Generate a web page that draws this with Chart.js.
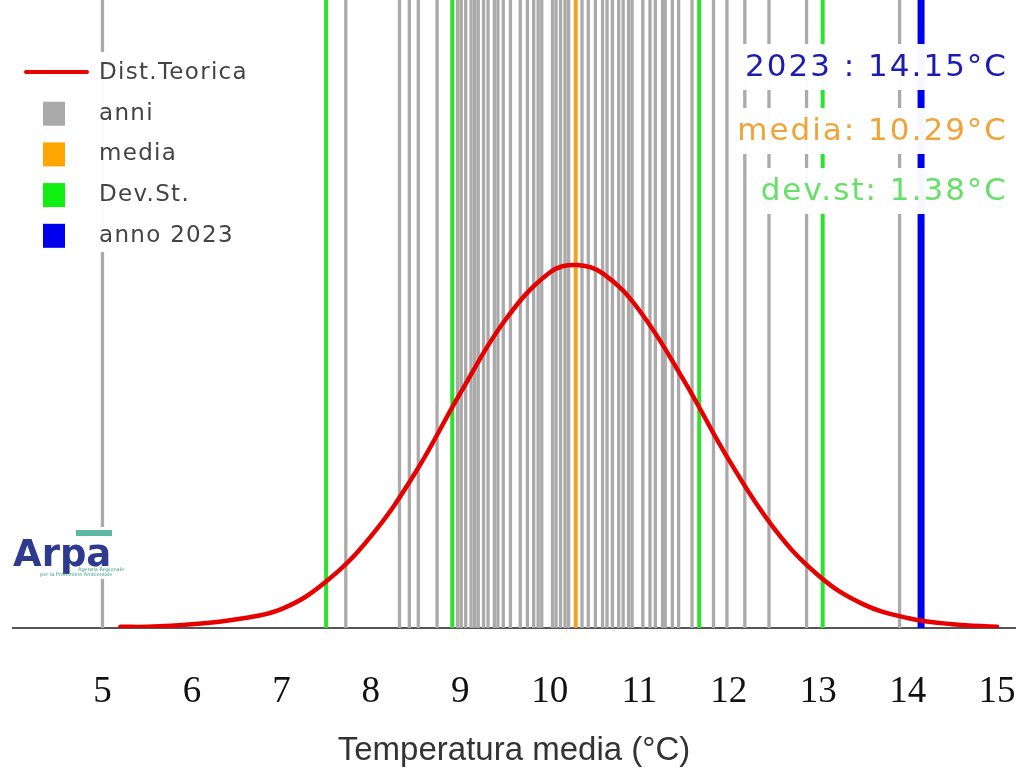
<!DOCTYPE html>
<html>
<head>
<meta charset="utf-8">
<script src="https://cdn.jsdelivr.net/npm/chart.js@4"></script>
<style>
html,body{margin:0;padding:0;background:#fff;}
#wrap{width:1020px;height:774px;position:relative;}
</style>
</head>
<body>
<div id="wrap"><canvas id="c" width="1020" height="774"></canvas></div>
<script>
// ---- data ----
const anni = [5.00, 7.72, 8.32, 8.43, 8.53, 8.74, 8.97, 9.01, 9.06, 9.12, 9.16, 9.20, 9.26, 9.31, 9.38, 9.42, 9.48, 9.56, 9.67, 9.75, 9.82, 9.87, 9.91, 10.03, 10.07, 10.12, 10.17, 10.21, 10.36, 10.43, 10.51, 10.59, 10.64, 10.70, 10.77, 10.82, 10.88, 10.92, 11.04, 11.12, 11.18, 11.26, 11.29, 11.37, 11.44, 11.59, 11.83, 11.98, 12.18, 12.45, 12.87, 13.91];
const media = 10.29;
const devSt = 1.38;
const devLines = [7.50, 8.91, 11.67, 13.05];
const anno = 2023;
const valoreAnno = 14.15;
const curveX = [5.2, 5.5, 6.0, 6.5, 7.0, 7.5, 8.0, 8.5, 9.0, 9.5, 10.0, 10.3, 10.6, 11.0, 11.5, 12.0, 12.5, 13.0, 13.5, 14.0, 14.5, 15.0];
const curveY = [0.001, 0.001, 0.003, 0.007, 0.015, 0.037, 0.073, 0.124, 0.187, 0.245, 0.283, 0.289, 0.282, 0.253, 0.197, 0.134, 0.080, 0.042, 0.019, 0.008, 0.003, 0.001];
const tickLabels = [5, 6, 7, 8, 9, 10, 11, 12, 13, 14, 15];
const legendLabels = ['Dist.Teorica', 'anni', 'media', 'Dev.St.', 'anno 2023'];
const axisTitle = 'Temperatura media (°C)';

const yTop = 0.5;
function vlines(vals){
  const out = [];
  vals.forEach(v => { out.push({x:v,y:0}); out.push({x:v,y:yTop}); out.push({x:v,y:null}); });
  return out;
}

const COL = {red:'#e60000', gray:'#aaaaaa', orange:'#f5a020', green:'#2fe02f', blue:'#0000f0'};

const overlay = {
  id:'overlay',
  afterDraw(chart){
    const ctx = chart.ctx;
    ctx.save();
    // info boxes
    const boxes = [
      {t: anno + ' : ' + valoreAnno.toFixed(2) + '°C', c:'#1c1cb4', y:68},
      {t: 'media: ' + media.toFixed(2) + '°C', c:'#f0a438', y:132},
      {t: 'dev.st: ' + devSt.toFixed(2) + '°C', c:'#66e066', y:192}
    ];
    ctx.font = '31px "DejaVu Sans"';
    ctx.letterSpacing = '2px';
    ctx.textBaseline = 'middle';
    boxes.forEach(b => {
      const w = ctx.measureText(b.t).width;
      const right = 1008;
      ctx.fillStyle = 'rgba(255,255,255,0.97)';
      ctx.fillRect(right - w - 6, b.y - 24, w + 10, 46);
      ctx.fillStyle = b.c;
      ctx.textAlign = 'right';
      ctx.fillText(b.t, right, b.y);
    });
    // legend
    ctx.fillStyle = 'rgba(255,255,255,0.96)';
    ctx.fillRect(16, 52, 240, 200);
    const sw = [COL.red, COL.gray, '#ffa500', '#11ee11', '#0000ee'];
    ctx.font = '23px "DejaVu Sans"';
    ctx.letterSpacing = '1.3px';
    ctx.textAlign = 'left';
    legendLabels.forEach((lab, i) => {
      const y = 72 + i * 40.7;
      if (i === 0) {
        ctx.strokeStyle = COL.red; ctx.lineWidth = 4; ctx.lineCap = 'round';
        ctx.beginPath(); ctx.moveTo(26, y); ctx.lineTo(87, y); ctx.stroke();
      } else {
        ctx.fillStyle = sw[i];
        ctx.fillRect(43, y - 11, 22, 24);
      }
      ctx.fillStyle = '#444';
      ctx.fillText(lab, 99, y + 1);
    });
    ctx.letterSpacing = '0px';
    // logo
    ctx.fillStyle = '#fff';
    ctx.fillRect(12, 527, 104, 52);
    ctx.fillStyle = '#5cb8a0';
    ctx.fillRect(76, 530, 36, 6);
    ctx.fillStyle = '#2d3a8e';
    ctx.font = 'bold 37px "DejaVu Sans"';
    ctx.textBaseline = 'alphabetic';
    ctx.fillText('Arpa', 13, 566);
    ctx.fillStyle = '#3aa08c';
    ctx.font = '5px "DejaVu Sans"';
    ctx.fillText('Agenzia Regionale', 78, 571);
    ctx.fillText('per la Protezione Ambientale', 40, 576);
    ctx.restore();
  }
};

new Chart(document.getElementById('c'), {
  type: 'line',
  data: {
    datasets: [
      {label:'anni', data: vlines(anni), borderColor: COL.gray, borderWidth: 3.3, pointRadius: 0, spanGaps:false, tension:0, order:5},
      {label:'Dev.St.', data: vlines(devLines), borderColor: COL.green, borderWidth: 4, pointRadius: 0, spanGaps:false, tension:0, order:4},
      {label:'media', data: vlines([media]), borderColor: COL.orange, borderWidth: 4, pointRadius: 0, spanGaps:false, tension:0, order:3},
      {label:'anno 2023', data: vlines([valoreAnno]), borderColor: COL.blue, borderWidth: 7, pointRadius: 0, spanGaps:false, tension:0, order:2},
      {label:'Dist.Teorica', data: curveX.map((x,i)=>({x:x, y:curveY[i]})), borderColor: COL.red, borderWidth: 4.5,
       pointRadius: 0, tension: 0.4, borderCapStyle:'round', order:1}
    ]
  },
  options: {
    responsive: false,
    animation: false,
    layout: {autoPadding: false, padding: {left: 13, right: 5, top: 0, bottom: 0}},
    plugins: {legend: {display:false}, tooltip: {enabled:false}},
    scales: {
      x: {
        type: 'linear', min: 4, max: 15.2,
        grid: {display: false, drawTicks: false},
        border: {display: true, color: '#555', width: 2},
        afterBuildTicks(axis){ axis.ticks = tickLabels.map(v => ({value: v})); },
        afterFit(axis){ axis.height = 146; axis.paddingLeft = 0; axis.paddingRight = 0; },
        ticks: {
          padding: 42, color: '#111', maxRotation: 0,
          font: {family: '"Liberation Serif", "Times New Roman", serif', size: 37},
          callback: v => String(v)
        },
        title: {display: true, text: axisTitle, color: '#333',
          font: {family: '"Liberation Sans", Arial, sans-serif', size: 33},
          padding: {top: 10, bottom: 3}}
      },
      y: {display: false, min: 0, max: yTop}
    }
  },
  plugins: [overlay]
});
</script>
</body>
</html>
